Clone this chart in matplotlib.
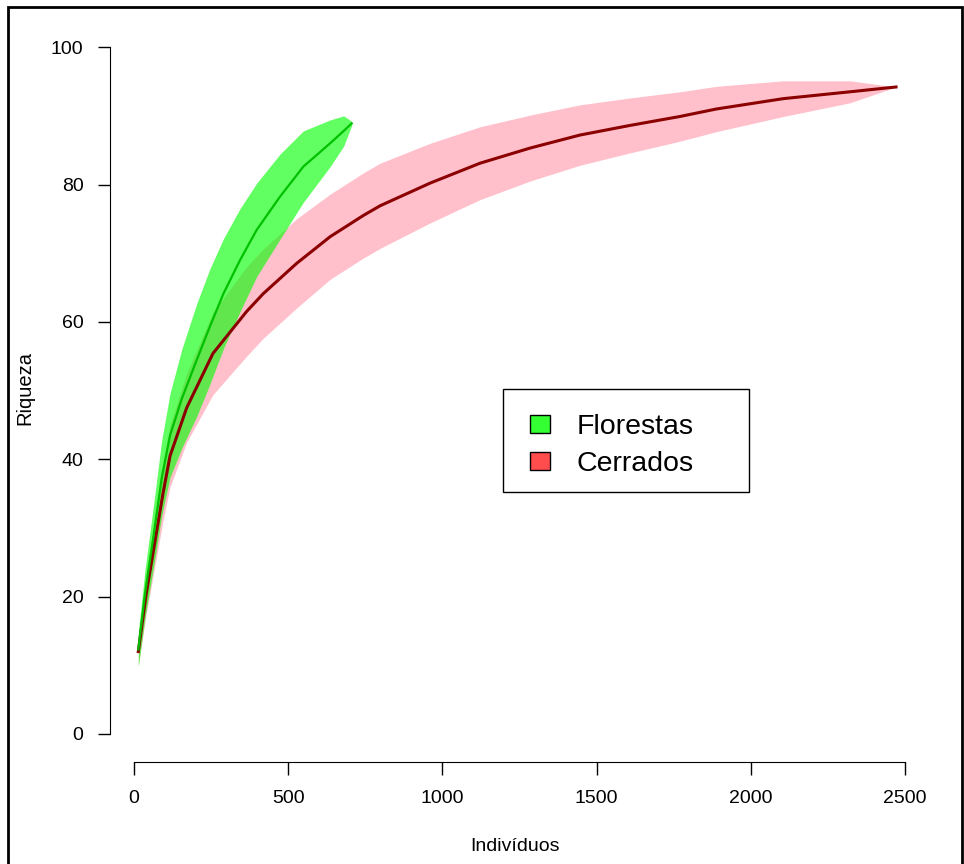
import numpy as np
import matplotlib
matplotlib.use("Agg")
import matplotlib.pyplot as plt
from matplotlib.patches import Patch, Rectangle

plt.rcParams['font.family'] = ['Liberation Sans', 'DejaVu Sans']

# Florestas (rarefaccion): individuos, riqueza media, semi-ancho del intervalo
flo_x = [14, 36, 63, 90, 117, 155, 203, 246, 290, 344, 398, 473, 549, 636, 680, 706]
flo_y = [12.3, 20.5, 28.7, 37.3, 43.5, 48.8, 54.4, 59.3, 64.1, 69.0, 73.4, 78.2, 82.6,
         86.0, 87.8, 88.9]
flo_hw = [2.5, 3.5, 4.5, 5.5, 6.1, 7.2, 8.2, 8.4, 8.0, 7.5, 6.8, 6.2, 5.2, 3.4, 2.2, 0.3]

# Cerrados
cer_x = [14, 40, 94, 117, 171, 256, 365, 419, 527, 636, 744, 798, 960, 1122, 1284,
         1446, 1608, 1770, 1889, 2105, 2322, 2471]
cer_y = [12.0, 20.5, 35.0, 40.5, 47.5, 55.4, 61.5, 64.1, 68.5, 72.4, 75.5, 76.9, 80.2,
         83.1, 85.3, 87.2, 88.6, 89.9, 91.0, 92.5, 93.5, 94.2]
cer_hw = [2.0, 3.0, 4.0, 4.5, 5.0, 6.0, 6.5, 6.5, 6.5, 6.2, 6.2, 6.2, 5.8, 5.3, 4.8,
          4.4, 4.0, 3.6, 3.3, 2.6, 1.6, 0.0]

x_ticks = [0, 500, 1000, 1500, 2000, 2500]
y_ticks = [0, 20, 40, 60, 80, 100]

fx, fy, fh = np.array(flo_x), np.array(flo_y), np.array(flo_hw)
cx, cy, ch = np.array(cer_x), np.array(cer_y), np.array(cer_hw)

fig = plt.figure(figsize=(9.64, 8.64), dpi=100)
ax = fig.add_axes([0.1141, 0.1181, 0.8402, 0.8472])

ax.fill_between(cx, cy - ch, cy + ch, color='#FFC0CB', lw=0)
ax.plot(cx, cy, color='#8B0000', lw=2.2)
ax.fill_between(fx, fy - fh, fy + fh, color='#00FF00', alpha=0.62, lw=0)
ax.plot(fx, fy, color='#00C000', lw=1.6)

ax.set_xlim(-77.8, 2548.6)
ax.set_ylim(-4.08, 102.5)
ax.set_xticks(x_ticks)
ax.set_yticks(y_ticks)
ax.tick_params(axis='both', direction='out', length=9, width=1, labelsize=14, pad=10)
ax.tick_params(axis='x', pad=11)
for s in ['top', 'right']:
    ax.spines[s].set_visible(False)
ax.spines['left'].set_bounds(0, 100)
ax.spines['bottom'].set_bounds(0, 2500)
ax.set_xlabel('Indivíduos', fontsize=14, va='center')
ax.set_ylabel('Riqueza', fontsize=14.5, va='center')
ax.xaxis.set_label_coords(0.5, -0.116)
ax.yaxis.set_label_coords(-0.105, 0.511)

# leyenda estilo R: caja dibujada aparte
ax.add_patch(Rectangle((0.4852, 0.3689), 0.3037, 0.1407, transform=ax.transAxes,
                       fill=True, fc='white', ec='black', lw=1, zorder=4))
handles = [Patch(facecolor='#33FF33', edgecolor='black', lw=1),
           Patch(facecolor='#FF4C4C', edgecolor='black', lw=1)]
leg = ax.legend(handles, ['Florestas', 'Cerrados'], loc='upper left',
                bbox_to_anchor=(0.5185, 0.4754), fontsize=20.5, frameon=False,
                handlelength=0.7, handleheight=0.6, handletextpad=0.95,
                borderpad=0, labelspacing=0.38, borderaxespad=0)
leg.set_zorder(5)

# marco exterior
fig.patches.append(Rectangle((8 / 964, -0.01), 954 / 964, 1 - 7 / 864 + 0.01,
                             transform=fig.transFigure, fill=False, ec='black', lw=2))

plt.savefig('out.png', dpi=100)
